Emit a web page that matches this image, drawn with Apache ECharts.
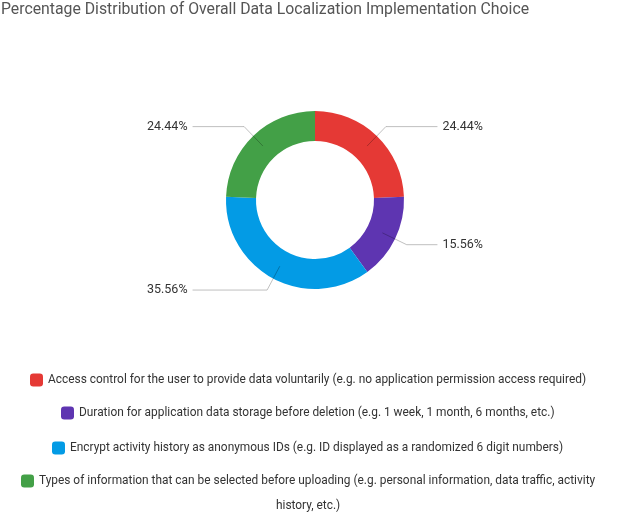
<!DOCTYPE html>
<html><head><meta charset="utf-8">
<script src="https://cdn.jsdelivr.net/npm/echarts@6/dist/echarts.min.js"></script>
<style>html,body{margin:0;padding:0;background:#fff}#c{width:634px;height:522px}</style>
</head><body><div id="c"></div>
<script>
const titleText = 'Percentage Distribution of Overall Data Localization Implementation Choice';
const categories = [
  'Access control for the user to provide data voluntarily (e.g. no application permission access required)',
  'Duration for application data storage before deletion (e.g. 1 week, 1 month, 6 months, etc.)',
  'Encrypt activity history as anonymous IDs (e.g. ID displayed as a randomized 6 digit numbers)',
  'Types of information that can be selected before uploading (e.g. personal information, data traffic, activity history, etc.)'
];
const percentages = [24.44, 15.56, 35.56, 24.44];
const colors = ['#e53935', '#5e35b1', '#039be5', '#43a047'];

const FONT = 'Roboto, sans-serif';
const LEG_SIZE = 11.9;
const TXT = '#333';
const legendTops = [367.5, 400.5, 435.5, 443.5];
const LEGEND_CENTER_X = 308;

const measureCtx = document.createElement('canvas').getContext('2d');
measureCtx.font = LEG_SIZE + 'px ' + FONT;
const textW = s => measureCtx.measureText(s).width;

const chart = echarts.init(document.getElementById('c'), null, {renderer: 'canvas'});

const legends = categories.map((name, i) => {
  const last = i === categories.length - 1;
  let firstLine = name;
  const lg = {
    data: [name], top: legendTops[i], padding: 0,
    icon: 'roundRect', itemWidth: 13, itemHeight: 13, itemGap: 0,
    textStyle: {fontFamily: FONT, fontSize: LEG_SIZE, color: TXT, lineHeight: 25}
  };
  if (last) {
    const cut = name.indexOf(' history, etc.)');
    const l1 = name.slice(0, cut), l2 = name.slice(cut + 1);
    firstLine = l1;
    lg.formatter = () => '{a|' + l1 + '}\n{b|' + l2 + '}';
    lg.textStyle.padding = [25, 0, 0, 0];
    lg.textStyle.rich = {
      a: {fontFamily: FONT, fontSize: LEG_SIZE, color: TXT, lineHeight: 25},
      b: {fontFamily: FONT, fontSize: LEG_SIZE, color: TXT, lineHeight: 25, align: 'center', padding: [0, 18, 0, 0]}
    };
  }
  const itemW = 13 + 5 + textW(firstLine);
  lg.left = Math.round(LEGEND_CENTER_X - itemW / 2);
  return lg;
});

const pieData = categories.map((n, i) => ({name: n, value: percentages[i], itemStyle: {color: colors[i]}}));
const labelData = categories.map((n, i) => ({
  name: n, value: percentages[i],
  label: {edgeDistance: i < 2 ? 151 : 147}
}));

chart.setOption({
  animation: false,
  title: {
    text: titleText, left: 1, top: 2, padding: 0,
    textStyle: {fontFamily: FONT, fontSize: 15.8, fontWeight: 'normal', color: '#555'}
  },
  legend: legends,
  series: [
    {
      type: 'pie', center: [315, 200], radius: [59, 89], startAngle: 90, clockwise: true,
      label: {show: false}, labelLine: {show: false},
      emphasis: {scale: false},
      data: pieData
    },
    {
      type: 'pie', center: [315, 200], radius: [59, 75], startAngle: 90, clockwise: true,
      z: 3, silent: true,
      itemStyle: {color: 'rgba(0,0,0,0)'},
      label: {
        show: true, position: 'outside', formatter: '{c}%',
        fontFamily: FONT, fontSize: 12.5, color: TXT,
        alignTo: 'edge', edgeDistance: 148, distanceToLabelLine: 5
      },
      labelLine: {show: true, length: 27, length2: 10, lineStyle: {color: 'rgba(0,0,0,0.25)', width: 1}},
      emphasis: {disabled: true},
      data: labelData
    }
  ]
});
</script>
</body></html>
